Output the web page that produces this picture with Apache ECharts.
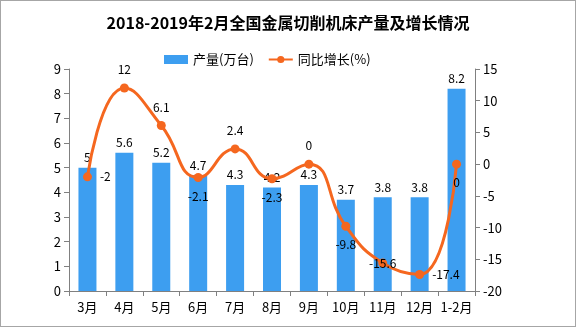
<!DOCTYPE html>
<html>
<head>
<meta charset="utf-8">
<script src="https://cdn.jsdelivr.net/npm/echarts@6/dist/echarts.min.js"></script>
<style>
  html, body { margin: 0; padding: 0; background: #fff; }
  #chart { width: 576px; height: 327px; box-sizing: border-box; border: 1px solid #a6a6a6; }
</style>
</head>
<body>
<div id="chart"></div>
<script>
// Monthly output of metal-cutting machine tools and year-on-year growth
const categories = ['3月', '4月', '5月', '6月', '7月', '8月', '9月', '10月', '11月', '12月', '1-2月'];
const output = [5, 5.6, 5.2, 4.7, 4.3, 4.2, 4.3, 3.7, 3.8, 3.8, 8.2];
const growth = [-2, 12, 6.1, -2.1, 2.4, -2.3, 0, -9.8, -15.6, -17.4, 0];
const growthLabelPos = ['right', 'top', 'top', 'bottom', 'top', 'bottom', 'top', 'bottom', 'inside', 'right', 'bottom'];
const leftTicks = [0, 9, 1];
const rightTicks = [-20, 15, 5];

const FONT = '"Noto Sans CJK SC", "DejaVu Sans", sans-serif';
const chart = echarts.init(document.getElementById('chart'));

chart.setOption({
  animation: false,
  textStyle: { fontFamily: FONT },
  title: {
    text: '2018-2019年2月全国金属切削机床产量及增长情况',
    left: 'center', top: 9,
    textStyle: { fontSize: 16, fontWeight: 'bold', color: '#000', fontFamily: FONT }
  },
  legend: {
    top: 47, left: 158, itemGap: 14, itemWidth: 24, itemHeight: 9,
    textStyle: { fontSize: 13, color: '#000' },
    data: [
      { name: '产量(万台)', icon: 'rect' },
      { name: '同比增长(%)' }
    ]
  },
  grid: { left: 68, right: 100, top: 68, bottom: 35 },
  xAxis: {
    type: 'category',
    data: categories,
    axisLine: { lineStyle: { color: '#808080' } },
    axisTick: { show: true, alignWithLabel: false, lineStyle: { color: '#808080' } },
    axisLabel: { color: '#000', fontSize: 13, margin: 10, interval: 0 }
  },
  yAxis: [
    {
      type: 'value', min: leftTicks[0], max: leftTicks[1], interval: leftTicks[2],
      axisLine: { show: true, lineStyle: { color: '#808080' } },
      axisTick: { show: true, lineStyle: { color: '#808080' } },
      axisLabel: { color: '#000', fontSize: 13 },
      splitLine: { show: false }
    },
    {
      type: 'value', min: rightTicks[0], max: rightTicks[1], interval: rightTicks[2],
      axisLine: { show: true, lineStyle: { color: '#808080' } },
      axisTick: { show: true, lineStyle: { color: '#808080' } },
      axisLabel: { color: '#000', fontSize: 13 },
      splitLine: { show: false }
    }
  ],
  series: [
    {
      name: '产量(万台)', type: 'bar', yAxisIndex: 0,
      data: output, barWidth: 18,
      itemStyle: { color: '#3d9ef0' },
      label: { show: true, position: 'top', color: '#000', fontSize: 12, distance: 4 }
    },
    {
      name: '同比增长(%)', type: 'line', yAxisIndex: 1,
      data: growth.map((v, i) => ({
        value: v,
        label: { position: growthLabelPos[i] }
      })),
      smooth: 0.5,
      symbol: 'circle', symbolSize: 9,
      lineStyle: { color: '#f5671f', width: 3 },
      itemStyle: { color: '#f5671f' },
      label: { show: true, color: '#000', fontSize: 12, distance: 8 },
      z: 5
    }
  ]
});
</script>
</body>
</html>
